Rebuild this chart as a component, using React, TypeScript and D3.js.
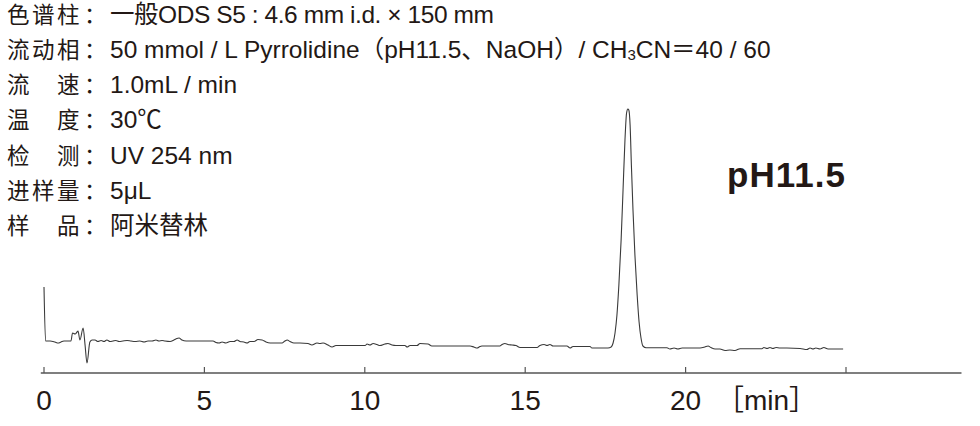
import React from "react";
import * as d3 from "d3";

// retention time (min)
const times = [
  0, 0.05, 0.19, 0.34, 0.44, 0.53, 0.62, 0.84, 0.89, 0.97, 1.03, 1.06, 1.12, 1.22, 1.28, 1.34, 1.43, 1.5, 1.59,
  1.68, 1.78, 1.87, 1.96, 2.06, 2.15, 2.24, 2.34, 2.46, 2.59, 2.71, 2.84, 2.99, 3.12, 3.24, 3.37, 3.49, 3.58,
  3.68, 3.77, 3.93, 4.05, 4.11, 4.21, 4.3, 4.43, 4.86, 5.27, 5.36, 5.46, 5.55, 5.67, 5.8, 5.92, 6.02, 6.11,
  6.23, 6.33, 6.42, 6.55, 6.67, 6.8, 6.92, 7.05, 7.42, 7.51, 7.58, 7.67, 7.79, 7.98, 8.23, 8.35, 8.51, 8.6,
  8.7, 8.85, 8.98, 9.1, 10.01, 10.07, 10.16, 10.26, 10.38, 10.47, 10.63, 10.72, 10.85, 10.97, 11.25, 11.32,
  11.41, 11.63, 11.72, 11.97, 12.09, 12.97, 13.28, 13.4, 13.5, 13.59, 13.65, 14.21, 14.28, 14.37, 14.46, 14.59,
  14.71, 14.84, 15.37, 15.46, 15.59, 15.68, 15.77, 15.87, 16.3, 16.4, 16.49, 17.02, 17.08, 17.58, 17.68, 17.74,
  17.8, 17.86, 17.92, 17.99, 18.05, 18.11, 18.16, 18.2, 18.23, 18.27, 18.31, 18.36, 18.42, 18.49, 18.55, 18.61,
  18.67, 18.77, 19.42, 19.51, 19.64, 19.76, 19.89, 20.14, 20.45, 20.6, 20.7, 20.79, 20.92, 21.07, 21.23, 21.38,
  21.54, 21.7, 22.38, 22.44, 22.54, 22.63, 22.72, 22.82, 22.94, 23.16, 23.57, 23.78, 23.88, 23.97, 24.06, 24.19,
  24.31, 24.44, 24.66, 24.91,
];

// detector signal (arbitrary units)
const signal = [
  43, 16, 16, 15.5, 15, 15.5, 16, 16, 20, 19.5, 20.5, 21, 16.5, 22.5, 14, 5, 15.5, 16.5, 16.5,
  15.75, 16.25, 15.75, 16.5, 15.75, 16, 16.25, 15.75, 16, 16.25, 16, 15.75, 16, 15.5, 16, 16, 16.5, 16,
  16.25, 16, 15.75, 16.5, 17, 17.5, 16.5, 16, 16, 16, 15.25, 15, 15.5, 15, 15.75, 15.75, 16.5, 15.75,
  15.5, 15, 15.75, 15.75, 16.75, 16.5, 15.5, 15, 15, 16, 16.5, 15.75, 15, 15, 14.75, 14, 15, 14.75,
  15, 14, 13, 13.75, 13.75, 14.5, 14, 14.75, 14.25, 13.75, 14.5, 14.75, 14, 13.75, 13.75, 13,
  13.75, 13.75, 14.75, 14.5, 13.5, 13.5, 13.5, 13, 12.5, 13.25, 13.5, 13.5, 14.25, 14.75, 14.25, 14,
  13.75, 12.75, 12.75, 13.75, 14.25, 13.75, 14.25, 13.5, 13.5, 12.5, 13.25, 13.25, 12.5, 12.5, 13, 15,
  20, 29, 44, 66.5, 91.5, 116.5, 130, 132, 131.5, 124, 104, 81.5, 59, 39, 25.5,
  17.5, 13.5, 12.65, 12.65, 12, 12.5, 12, 12.5, 12.5, 12.5, 13, 13.5, 12.75, 12, 12, 11.25, 11.5,
  11.25, 12.15, 12.15, 12.75, 12.25, 12.75, 12.25, 12.75, 12.5, 12.5, 12.25, 11.75, 12.5, 12, 12.5, 12,
  12.75, 12, 12, 12,
];

const tickValues = [0, 5, 10, 15, 20, 25];
const tickLabels = ["0", "5", "10", "15", "20"];
const unitLabel = "［min］";
const peakLabel = "pH11.5";

const condLabels = [
  ["色", "谱", "柱"],
  ["流", "动", "相"],
  ["流", "", "速"],
  ["温", "", "度"],
  ["检", "", "测"],
  ["进", "样", "量"],
  ["样", "", "品"],
];
const condValues = [
  "一般ODS S5 : 4.6 mm i.d. × 150 mm",
  "50 mmol / L Pyrrolidine（pH11.5、NaOH）/ CH|3|CN＝40 / 60",
  "1.0mL / min",
  "30℃",
  "UV 254 nm",
  "5μL",
  "阿米替林",
];

const INK = "#231815";
const FONT = "'Liberation Sans', Arial, 'Noto Sans CJK SC', sans-serif";

export default function App() {
  const width = 980;
  const height = 426;
  const x = d3.scaleLinear().domain([0, 25]).range([44, 846]);
  const y = d3.scaleLinear().domain([0, 132]).range([373, 109]);
  const data = times.map((t, i) => ({ t, s: signal[i] }));
  const line = d3
    .line<{ t: number; s: number }>()
    .x((d) => x(d.t))
    .y((d) => y(d.s))
    .curve(d3.curveMonotoneX);

  const axisY = y(0);
  const lineH = 35.33;

  return (
    <svg
      width={width}
      height={height}
      style={{ position: "absolute", left: 0, top: 0, background: "#fff" }}
      fontFamily={FONT}
    >
      {condLabels.map((chars, i) => {
        const by = 22.5 + i * lineH;
        const parts = condValues[i].split("|");
        return (
          <g key={i} fill={INK}>
            {chars.map((c, j) =>
              c ? (
                <text key={j} x={7 + j * 25} y={by} fontSize={22.5}>
                  {c}
                </text>
              ) : null
            )}
            <text x={84} y={by} fontSize={22.5}>
              ：
            </text>
            <text
              x={110}
              y={by}
              fontSize={24.5}
              {...(i === 0 ? { textLength: 384, lengthAdjust: "spacing" } : {})}
            >
              {parts.length === 1 ? (
                parts[0]
              ) : (
                <>
                  {parts[0]}
                  <tspan fontSize={15} dy={2}>
                    {parts[1]}
                  </tspan>
                  <tspan dy={-2}>{parts[2]}</tspan>
                </>
              )}
            </text>
          </g>
        );
      })}

      <text x={727} y={187} fontSize={35} fontWeight="bold" letterSpacing={1} fill={INK}>
        {peakLabel}
      </text>

      <path d={line(data) || ""} fill="none" stroke="#3a3a3a" strokeWidth={1.1} />

      <line x1={x(-0.1)} x2={x(28.6)} y1={axisY} y2={axisY} stroke="#555" strokeWidth={1.5} />
      {tickValues.map((v) => (
        <line key={v} x1={x(v)} x2={x(v)} y1={axisY} y2={axisY - 6} stroke="#555" strokeWidth={1.2} />
      ))}
      {tickLabels.map((l, i) => (
        <text key={l} x={x(tickValues[i])} y={410} fontSize={28} textAnchor="middle" fill={INK}>
          {l}
        </text>
      ))}
      <text x={716} y={410} fontSize={28} fill={INK}>
        {unitLabel}
      </text>
    </svg>
  );
}
